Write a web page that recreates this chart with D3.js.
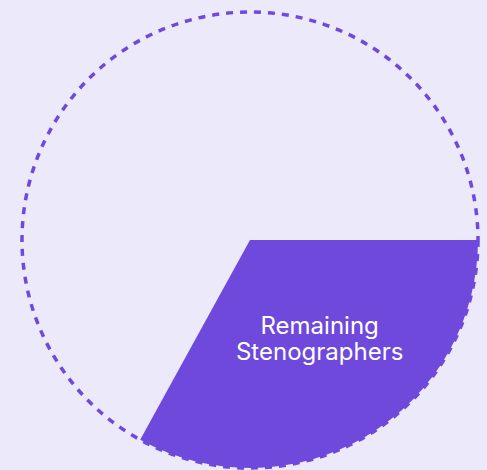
<!DOCTYPE html>
<html>
<head>
<meta charset="utf-8">
<script src="https://cdn.jsdelivr.net/npm/d3@7"></script>
<style>
  html, body { margin: 0; padding: 0; background: #ECEAFA; }
  svg { display: block; }
</style>
</head>
<body>
<svg id="chart" width="487" height="470"></svg>
<script>
// Share of the whole, first one is the filled slice
var categories = ["Remaining Stenographers", "Others"];
var values = [33, 67];
var shown = [true, false];

var svg = d3.select("#chart");
var width = 487, height = 470;
var cx = 250, cy = 240, radius = 228;

var g = svg.append("g")
  .attr("transform", "translate(" + cx + "," + cy + ")");

// Dashed outline for the whole
g.append("circle")
  .attr("r", radius)
  .attr("fill", "none")
  .attr("stroke", "#6E49DC")
  .attr("stroke-width", 3.5)
  .attr("stroke-dasharray", "7,7");

var pie = d3.pie()
  .sort(null)
  .startAngle(Math.PI / 2)
  .endAngle(Math.PI / 2 + 2 * Math.PI)
  .value(function(d) { return d; });

var arc = d3.arc().innerRadius(0).outerRadius(radius);
var labelArc = d3.arc().innerRadius(radius * 0.6).outerRadius(radius * 0.6);

var arcs = pie(values);

g.selectAll("path.slice")
  .data(arcs.filter(function(d, i) { return shown[i]; }))
  .enter().append("path")
  .attr("class", "slice")
  .attr("d", arc)
  .attr("fill", "#6E49DC");

// Label, split on space into two lines
arcs.forEach(function(d, i) {
  if (!shown[i]) return;
  var c = labelArc.centroid(d);
  var words = categories[i].split(" ");
  var text = g.append("text")
    .attr("text-anchor", "middle")
    .attr("fill", "#ffffff")
    .attr("font-family", "Inter, sans-serif")
    .attr("font-size", 24);
  words.forEach(function(w, j) {
    text.append("tspan")
      .attr("x", c[0])
      .attr("y", c[1] + (j - (words.length - 1) / 2) * 26 - 11)
      .text(w);
  });
});
</script>
</body>
</html>
